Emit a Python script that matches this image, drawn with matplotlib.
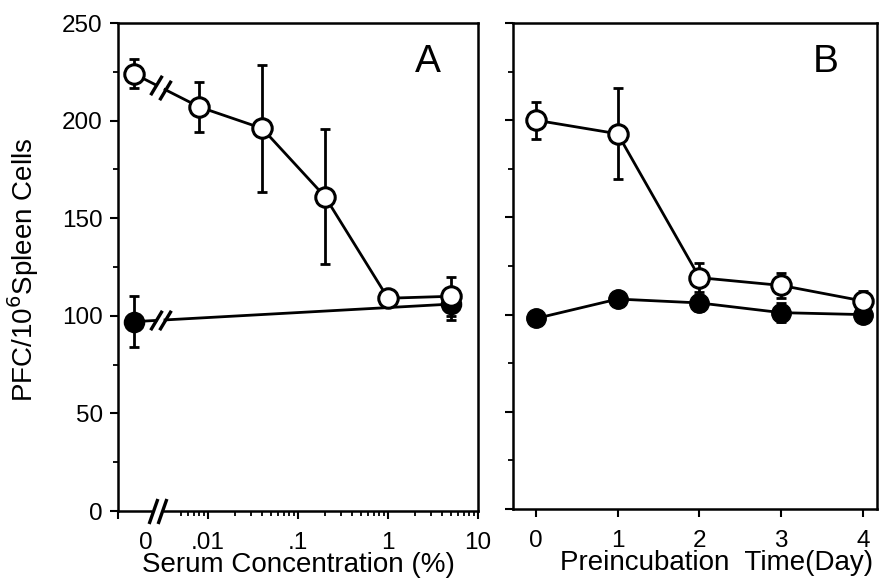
import matplotlib.pyplot as plt
import numpy as np
from matplotlib.markers import MarkerStyle
from matplotlib.path import Path

plt.rcParams['font.family'] = ['Liberation Sans', 'DejaVu Sans']

# Panel A: serum concentration (%), "0" is put at ZERO_POS on the log axis
ZERO_POS = 0.0015
conc_open = [ZERO_POS, 0.008, 0.04, 0.2, 1, 5]
a_open = [224, 207, 196, 161, 109, 110]
a_open_err = [7.5, 13, 32.5, 34.5, 0, 10]
conc_filled = [ZERO_POS, 5]
a_filled = [97, 106]
a_filled_err = [13, 8]

# Panel B: preincubation time (day)
days = [0, 1, 2, 3, 4]
b_open = [200, 193, 119, 115, 107]
b_open_err = [9.5, 23.5, 7.5, 6.5, 5]
b_filled = [98, 108, 106, 101, 100]
b_filled_err = [0, 0, 4, 5, 0]

a_xticks = [0.001, 0.00205, 0.01, 0.1, 1, 10]
a_xticklabels = ['', '0', '.01', '.1', '1', '10']

LW = 2.0
MS = 14
TICK_FS = 17.5
LABEL_FS = 20
slash = MarkerStyle(Path([(-0.6, -1), (0.6, 1)], [Path.MOVETO, Path.LINETO]))
slash_axis = MarkerStyle(Path([(-0.35, -1), (0.35, 1)], [Path.MOVETO, Path.LINETO]))


def logy(x, x0, y0, x1, y1):
    t = (np.log10(x) - np.log10(x0)) / (np.log10(x1) - np.log10(x0))
    return y0 + t * (y1 - y0)


def broken_line(ax, xs, ys, b1=0.00264, b2=0.00333):
    # first segment is cut by a // break
    y1 = logy(b1, xs[0], ys[0], xs[1], ys[1])
    y2 = logy(b2, xs[0], ys[0], xs[1], ys[1])
    ax.plot([xs[0], b1], [ys[0], y1], color='black', lw=LW, zorder=2)
    ax.plot([b2] + list(xs[1:]), [y2] + list(ys[1:]), color='black', lw=LW, zorder=2)
    ax.plot([b1, b2], [y1, y2], ls='none', marker=slash, ms=14, mew=2.4,
            color='black', zorder=4)


def style_axis(ax):
    for s in ax.spines.values():
        s.set_linewidth(1.8)
    ax.tick_params(which='major', direction='out', length=6, width=1.5,
                   labelsize=TICK_FS, pad=5)
    ax.tick_params(axis='x', which='major', pad=9)
    ax.tick_params(which='minor', direction='out', length=3.5, width=1.3)
    ax.set_ylim(0, 250)
    ax.set_yticks([0, 50, 100, 150, 200, 250])
    ax.set_yticks([25, 75, 125, 175, 225], minor=True)


fig = plt.figure(figsize=(8.86, 5.8), dpi=100)
axA = fig.add_axes([118 / 886, 69 / 580, 360 / 886, 488 / 580])
axB = fig.add_axes([513 / 886, 71 / 580, 364 / 886, 486 / 580])

# ---- panel A
style_axis(axA)
axA.set_xscale('log')
axA.set_xlim(0.001, 10)
axA.set_xticks(a_xticks)
axA.set_xticklabels(a_xticklabels)
axA.xaxis.get_major_ticks()[1].tick1line.set_visible(False)
minors = [k * 10.0 ** e for e in range(-3, 1) for k in range(2, 10)]
axA.set_xticks([m for m in minors if m > 0.004], minor=True)
axA.xaxis.set_minor_formatter(plt.NullFormatter())

broken_line(axA, conc_open, a_open)
broken_line(axA, conc_filled, a_filled)
axA.errorbar(conc_open, a_open, yerr=a_open_err, fmt='none', ecolor='black',
             elinewidth=LW, capsize=3.8, capthick=LW, zorder=2)
axA.errorbar(conc_filled, a_filled, yerr=a_filled_err, fmt='none', ecolor='black',
             elinewidth=LW, capsize=3.8, capthick=LW, zorder=2)
axA.plot(conc_filled, a_filled, ls='none', marker='o', ms=MS, mfc='black',
         mec='black', mew=1.5, zorder=3)
axA.plot(conc_open, a_open, ls='none', marker='o', ms=MS, mfc='white',
         mec='black', mew=2.2, zorder=3)

# break on the x axis
axA.plot([0.00255, 0.0030], [0, 0], color='white', lw=4, clip_on=False, zorder=5)
axA.plot([0.00245, 0.0031], [0, 0], ls='none', marker=slash_axis, ms=18, mew=2.4,
         color='black', clip_on=False, zorder=6)

axA.text(0.86, 0.92, 'A', transform=axA.transAxes, ha='center', va='center', fontsize=28)
axA.set_xlabel('Serum Concentration (%)', fontsize=LABEL_FS)
axA.xaxis.set_label_coords(0.5, -0.085)
axA.set_ylabel('PFC/10$^6$Spleen Cells', fontsize=LABEL_FS)
axA.yaxis.set_label_coords(-0.215, 0.494)

# ---- panel B
style_axis(axB)
axB.set_yticklabels([])
axB.set_xlim(-0.28, 4.17)
axB.set_xticks(days)
axB.errorbar(days, b_open, yerr=b_open_err, fmt='none', ecolor='black',
             elinewidth=LW, capsize=3.8, capthick=LW, zorder=2)
axB.errorbar(days, b_filled, yerr=b_filled_err, fmt='none', ecolor='black',
             elinewidth=LW, capsize=3.8, capthick=LW, zorder=2)
axB.plot(days, b_filled, color='black', lw=LW, marker='o', ms=MS, mfc='black',
         mec='black', zorder=3)
axB.plot(days, b_open, color='black', lw=LW, marker='o', ms=MS, mfc='white',
         mec='black', mew=2.2, zorder=3)
axB.text(0.86, 0.92, 'B', transform=axB.transAxes, ha='center', va='center', fontsize=28)
axB.set_xlabel('Preincubation  Time(Day)', fontsize=LABEL_FS)
axB.xaxis.set_label_coords(0.56, -0.085)

fig.savefig('out.png', dpi=100)
